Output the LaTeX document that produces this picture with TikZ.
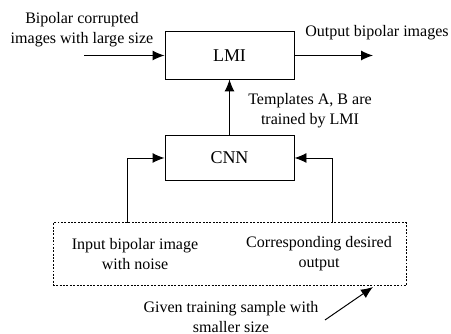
\documentclass[tikz,border=0pt]{standalone}
\usepackage{fontspec}
\setmainfont{Liberation Serif}
\usetikzlibrary{arrows.meta,positioning}

\tikzset{
	block/.style = {draw, line width=0.7pt, minimum width=3.225cm, minimum height=1.175cm, inner sep=0, font=\fontsize{12.8}{15}\selectfont},
	txt/.style = {align=center, inner sep=0, font=\fontsize{11.4}{14.2}\selectfont},
	flow/.style = {line width=0.7pt, -{Latex[length=3mm, width=2.5mm]}}
}

\begin{document}
\begin{tikzpicture}
		\useasboundingbox (0,0) rectangle (11.275,8.35);
		% Blocks
		\node[block] at (5.7375, 6.9625) (lmi) {LMI};
		\node[block, minimum height=1.15cm] at (5.7375, 4.4) (cnn) {CNN};
		\node[draw, line width=0.7pt, dash pattern=on 1.4pt off 1pt, minimum width=8.825cm, minimum height=1.575cm, inner sep=0] at (5.7375, 1.9875) (sample) {};
		% Texts
		\node[txt] at (2.05, 7.6) (inlabel) {Bipolar corrupted\\images with large size};
		\node[txt] at (9.425, 7.525) (outlabel) {Output bipolar images};
		\node[txt] at (7.75, 5.575) (tmpl) {Templates A, B are\\trained by LMI};
		\node[txt] at (3.375, 2.0) (noisy) {Input bipolar image\\with noise};
		\node[txt] at (7.975, 2.0) (desired) {Corresponding desired\\output};
		\node[txt] at (5.775, 0.425) (given) {Given training sample with\\smaller size};
		% Free ends
		\coordinate (in) at (2.1, 6.9625);
		\coordinate (out) at (9.325, 6.9625);
		\coordinate (left) at (3.175, 2.775);
		\coordinate (right) at (8.3, 2.775);
		\coordinate (pointer) at (8.125, 0.35);
		\coordinate (hit) at (9.325, 1.175);
		% Connectors
		\draw[flow] (in) -- (lmi.west);
		\draw[flow] (lmi.east) -- (out);
		\draw[flow] (cnn.north) -- (lmi.south);
		\draw[flow] (left) |- (cnn.west);
		\draw[flow] (right) |- (cnn.east);
		\draw[flow] (pointer) -- (hit);
	\end{tikzpicture}
\end{document}
